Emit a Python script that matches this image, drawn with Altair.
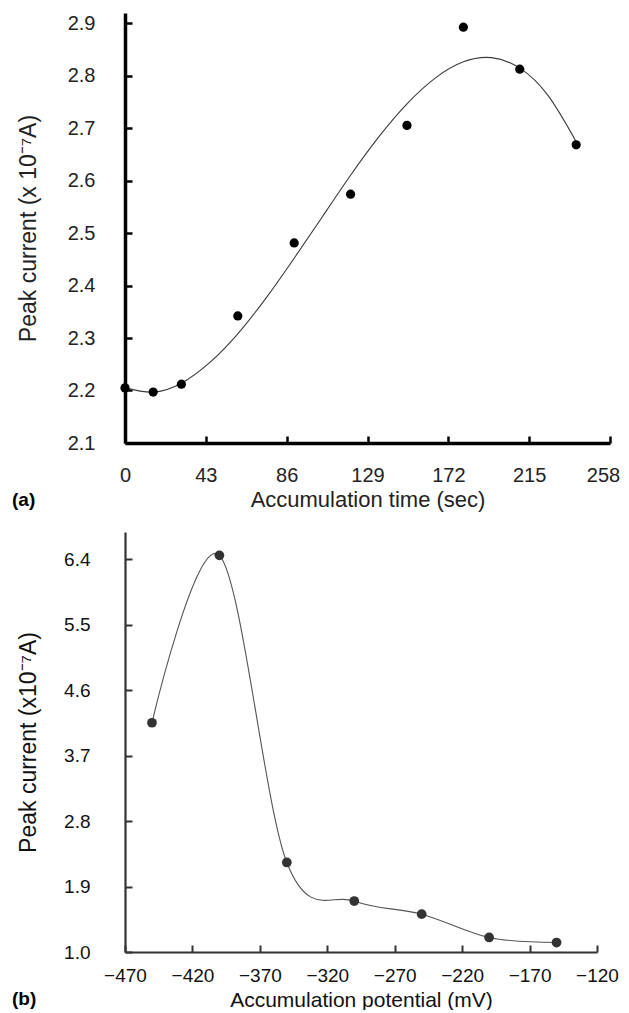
import altair as alt
import pandas as pd

# ---------------- data ----------------
# panel (a): accumulation time
time_s = [0, 15, 30, 60, 90, 120, 150, 180, 210, 240]
current_a = [2.205, 2.197, 2.212, 2.342, 2.481, 2.574, 2.705, 2.892, 2.812, 2.668]
# fitted trend curve of panel (a)
fit_time = [0, 15, 30, 45, 60, 75, 90, 105, 120, 135, 150, 165, 180, 195, 210, 225, 240]
fit_current = [2.205, 2.197, 2.214, 2.253, 2.308, 2.376, 2.452, 2.531, 2.610,
               2.683, 2.746, 2.795, 2.826, 2.834, 2.814, 2.762, 2.674]
ticks_a_x = [0, 43, 86, 129, 172, 215, 258]
ticks_a_y = [2.1, 2.2, 2.3, 2.4, 2.5, 2.6, 2.7, 2.8, 2.9]

# panel (b): accumulation potential
potential_mv = [-450, -400, -350, -300, -250, -200, -150]
current_b = [4.15, 6.45, 2.23, 1.70, 1.52, 1.20, 1.13]
ticks_b_x = [-470, -420, -370, -320, -270, -220, -170, -120]
ticks_b_y = [1.0, 1.9, 2.8, 3.7, 4.6, 5.5, 6.4]

FONT = "Liberation Sans"

df_a = pd.DataFrame({"t": time_s, "c": current_a})
df_fit = pd.DataFrame({"t": fit_time, "c": fit_current})
df_b = pd.DataFrame({"p": potential_mv, "c": current_b})

# ---------------- panel (a) ----------------
WA, HA = 485, 430
xs_a = alt.Scale(domain=[0, 258], nice=False, zero=False)
ys_a = alt.Scale(domain=[2.1, 2.1 + 0.8 * HA / 420], nice=False, zero=False)

x_main_a = alt.Axis(orient="bottom", values=ticks_a_x, format="d", ticks=False, grid=False,
                    labelFlush=False,
                    labelOffset=alt.condition("datum.value >= 258", alt.value(-7), alt.value(0)),
                    domainColor="black", domainWidth=3.5, labelFont=FONT, labelFontSize=20,
                    labelColor="#222", labelPadding=22, title="Accumulation time (sec)",
                    titleFont=FONT, titleFontSize=22, titleFontWeight="normal",
                    titleColor="#222", titlePadding=4)
y_main_a = alt.Axis(orient="left", values=ticks_a_y, format=".1f", ticks=False, grid=False,
                    labelFlush=False,
                    domainColor="black", domainWidth=3.5, labelFont=FONT, labelFontSize=20,
                    labelColor="#222", labelPadding=30, title="Peak current (x 10⁻⁷A)",
                    titleFont=FONT, titleFontSize=23, titleFontWeight="normal",
                    titleColor="#222", titlePadding=27)
x_tick_a = alt.Axis(orient="bottom", values=ticks_a_x, offset=-7, domain=False, labels=False,
                    ticks=True, tickSize=7, tickWidth=2.5, tickColor="black", grid=False,
                    title=None)
y_tick_a = alt.Axis(orient="left", values=ticks_a_y, offset=-7, domain=False, labels=False,
                    ticks=True, tickSize=7, tickWidth=2.5, tickColor="black", grid=False,
                    title=None)

line_a = alt.Chart(df_fit).mark_line(interpolate="natural", color="#3a3a3a", strokeWidth=1.1).encode(
    x=alt.X("t:Q", scale=xs_a, axis=x_main_a),
    y=alt.Y("c:Q", scale=ys_a, axis=y_main_a),
)
pts_a = alt.Chart(df_a).mark_circle(size=85, color="black", opacity=1).encode(
    x=alt.X("t:Q", scale=xs_a, axis=x_tick_a),
    y=alt.Y("c:Q", scale=ys_a, axis=y_tick_a),
)
lab_a = alt.Chart(pd.DataFrame({"lab": ["(a)"]})).mark_text(
    align="left", baseline="middle", font=FONT, fontSize=19, fontWeight="bold", color="black"
).encode(text="lab:N", x=alt.value(-113), y=alt.value(HA + 57))

panel_a = alt.layer(line_a, pts_a, lab_a).resolve_axis(x="independent", y="independent").properties(
    width=WA, height=HA)

# ---------------- panel (b) ----------------
WB, HB = 472, 420
xs_b = alt.Scale(domain=[-470, -120], nice=False, zero=False)
ys_b = alt.Scale(domain=[1.0, 1.0 + 5.4 * HB / 393], nice=False, zero=False)

x_main_b = alt.Axis(orient="bottom", values=ticks_b_x, format="d", ticks=False, grid=False,
                    labelFlush=False,
                    domainColor="#333", domainWidth=2.2, labelFont=FONT, labelFontSize=19,
                    labelColor="#111", labelPadding=14, title="Accumulation potential (mV)",
                    titleFont=FONT, titleFontSize=21, titleFontWeight="normal",
                    titleColor="#111", titlePadding=4)
y_main_b = alt.Axis(orient="left", values=ticks_b_y, format=".1f", ticks=False, grid=False,
                    labelFlush=False,
                    domainColor="#333", domainWidth=2.2, labelFont=FONT, labelFontSize=19,
                    labelColor="#111", labelPadding=35, title="Peak current (x10⁻⁷A)",
                    titleFont=FONT, titleFontSize=23, titleFontWeight="normal",
                    titleColor="#111", titlePadding=23)
x_tick_b = alt.Axis(orient="bottom", values=ticks_b_x, offset=-7, domain=False, labels=False,
                    ticks=True, tickSize=7, tickWidth=2, tickColor="#333", grid=False,
                    title=None)
y_tick_b = alt.Axis(orient="left", values=ticks_b_y, offset=-7, domain=False, labels=False,
                    ticks=True, tickSize=7, tickWidth=2, tickColor="#333", grid=False,
                    title=None)

line_b = alt.Chart(df_b).mark_line(interpolate="cardinal", tension=0, color="#555",
                                   strokeWidth=1.1).encode(
    x=alt.X("p:Q", scale=xs_b, axis=x_main_b),
    y=alt.Y("c:Q", scale=ys_b, axis=y_main_b),
)
pts_b = alt.Chart(df_b).mark_circle(size=95, color="#333", opacity=1).encode(
    x=alt.X("p:Q", scale=xs_b, axis=x_tick_b),
    y=alt.Y("c:Q", scale=ys_b, axis=y_tick_b),
)
lab_b = alt.Chart(pd.DataFrame({"lab": ["(b)"]})).mark_text(
    align="left", baseline="middle", font=FONT, fontSize=19, fontWeight="bold", color="black"
).encode(text="lab:N", x=alt.value(-113), y=alt.value(HB + 47))

panel_b = alt.layer(line_b, pts_b, lab_b).resolve_axis(x="independent", y="independent").properties(
    width=WB, height=HB)

chart = alt.vconcat(panel_a, panel_b, spacing=22).properties(
    padding={"left": 4, "top": 5, "right": 0, "bottom": 0}
).configure_view(stroke=None)

chart.save("out.html", embed_options={"renderer": "svg", "actions": False})
